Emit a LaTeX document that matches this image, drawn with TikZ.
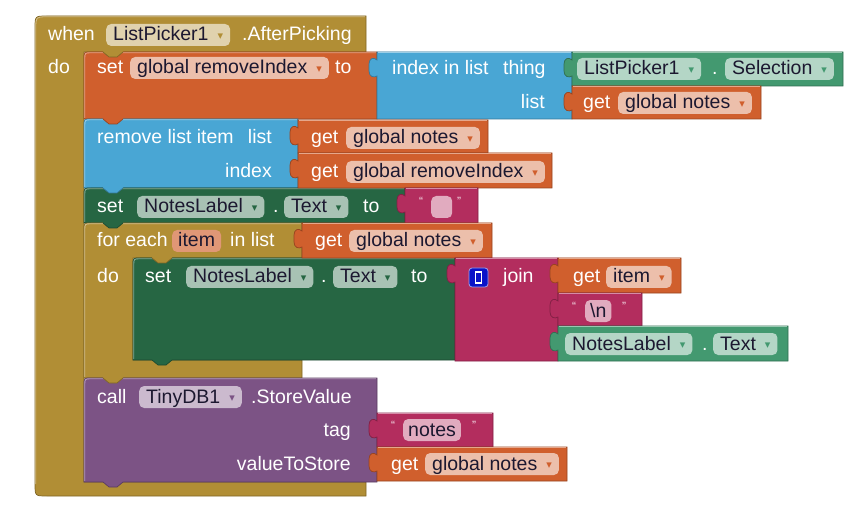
\documentclass[tikz,border=0pt]{standalone}
\usepackage{fontspec}
\setmainfont{Liberation Sans}
\newfontfamily\symfont{DejaVu Sans}

\definecolor{ctrl}{HTML}{B18E35}
\definecolor{var}{HTML}{D05F2D}
\definecolor{lists}{HTML}{49A6D4}
\definecolor{compset}{HTML}{266643}
\definecolor{compget}{HTML}{439970}
\definecolor{txt}{HTML}{B32D5E}
\definecolor{meth}{HTML}{7C5385}
\definecolor{ink}{HTML}{1C1830}
\definecolor{mutblue}{HTML}{0A12C8}

% dropdown marker inside a field
\newcommand\ddm[1]{\hspace{9pt}\raisebox{1.5pt}{\symfont\fontsize{11}{11}\selectfont\color{#1}▾}}

% statement block: rounded top-left corner, light top edge
\newcommand\sblk[5]{%
  \filldraw[fill=#1, rim=#1] (#2,#3+7) .. controls (#2,#3) .. (#2+7,#3)
    -- (#4,#3) -- (#4,#5) -- (#2,#5) -- cycle;
  \draw[#1!55!white, line width=0.8pt] (#2+0.8,#5-1) -- (#2+0.8,#3+7) .. controls (#2+0.8,#3+0.8) .. (#2+7,#3+0.8) -- (#4-1,#3+0.8);}
% value block with output tab on its left edge
\newcommand\vblk[5]{%
  \filldraw[fill=#1, rim=#1] (#2,#3) -- (#4,#3) -- (#4,#5) -- (#2,#5) -- (#2,#3+24)
    .. controls (#2-3,#3+26) and (#2-8,#3+25) .. (#2-8,#3+19) -- (#2-8,#3+12)
    .. controls (#2-8,#3+6) and (#2-3,#3+5) .. (#2,#3+8) -- cycle;
  \draw[#1!55!white, line width=0.8pt] (#2+0.5,#3+0.8) -- (#4-1,#3+0.8);}
% next-statement tab below a block edge
\newcommand\stab[3]{%
  \fill[#1] (#2+19,#3-1) -- (#2+19,#3) -- (#2+25,#3+5) -- (#2+33,#3+5) -- (#2+39,#3) -- (#2+39,#3-1) -- cycle;
  \draw[#1!72!black, line width=0.7pt] (#2+19,#3) -- (#2+25,#3+5) -- (#2+33,#3+5) -- (#2+39,#3);}

\tikzset{
  rim/.style={draw=#1!72!black, line width=0.7pt},
  every node/.style={font=\fontsize{19.5}{22}\selectfont},
  lbl/.style={text=white, inner sep=0pt, anchor=base west},
  lble/.style={text=white, inner sep=0pt, anchor=base east},
  pill/.style={fill=#1!40!white, text=ink, rounded corners=5pt, inner xsep=7pt,
    inner ysep=1pt, text height=16pt, text depth=4pt, anchor=base west},
  qmark/.style={text=txt!12!white, inner sep=0pt, anchor=base west, font=\fontsize{12}{12}\selectfont},
}

\begin{document}
\begin{tikzpicture}[x=1pt, y=-1pt]
\useasboundingbox (0,0) rectangle (859,529);
\fill[white] (0,0) rectangle (859,529);

% event block: when ListPicker1.AfterPicking
\filldraw[fill=ctrl, rim=ctrl] (35,28) .. controls (35,16) .. (47,16) -- (366,16) -- (366,52)
  -- (84,52) -- (84,482) -- (366,482) -- (366,496) -- (47,496) .. controls (35,496) .. (35,484) -- cycle;
\draw[ctrl!55!white, line width=0.8pt] (35.8,484) -- (35.8,28) .. controls (35.8,16.8) .. (47,16.8) -- (365,16.8);

% statement stack
\sblk{var}{84}{52}{377}{119}
\sblk{lists}{84}{119}{298}{188}
\sblk{compset}{84}{188}{405}{223}
\filldraw[fill=ctrl, rim=ctrl] (84,230) .. controls (84,223) .. (91,223) -- (302,223) -- (302,258)
  -- (133,258) -- (133,360) -- (302,360) -- (302,378) -- (84,378) -- cycle;
\draw[ctrl!55!white, line width=0.8pt] (84.8,377) -- (84.8,230) .. controls (84.8,223.8) .. (91,223.8) -- (301,223.8);
\sblk{meth}{84}{378}{377}{482}
\sblk{compset}{133}{258}{455}{360}

% statement tabs
\stab{ctrl}{84}{52}
\stab{var}{84}{119}
\stab{lists}{84}{188}
\stab{compset}{84}{223}
\stab{ctrl}{133}{258}
\stab{compset}{133}{360}
\stab{ctrl}{84}{378}
\stab{meth}{84}{482}

% value blocks
\vblk{lists}{377}{52}{572}{119}
\vblk{compget}{572}{52}{843}{86}
\vblk{var}{572}{86}{761}{119}
\vblk{var}{298}{120}{488}{153}
\vblk{var}{298}{153}{552}{188}
\vblk{txt}{405}{188}{478}{223}
\vblk{var}{302}{223}{492}{258}
\vblk{txt}{455}{258}{558}{361}
\vblk{var}{558}{258}{681}{293}
\vblk{txt}{558}{293}{642}{326}
\vblk{compget}{558}{326}{788}{361}
\vblk{txt}{377}{413}{493}{447}
\vblk{var}{377}{447}{567}{481}

% event header
\node[lbl] (when) at (48,41) {when};
\node[pill=ctrl] (evcomp) at (106,41) {ListPicker1\ddm{ctrl}};
\node[lbl] (evname) at (242,41) {.AfterPicking};
\node[lbl] (evdo) at (48,74) {do};

% set global removeIndex to index in list
\node[lbl] (set1) at (97,74) {set};
\node[pill=var] (set1var) at (130,74) {global removeIndex\ddm{var}};
\node[lbl] (set1to) at (335,74) {to};
\node[lbl] (idxlist) at (392,75) {index in list};
\node[lbl] (idxthing) at (503,75) {thing};
\node[lble] (idxlst) at (545,109) {list};
\node[pill=compget] (selcomp) at (577,75) {ListPicker1\ddm{compget}};
\node[lbl] (seldot) at (712,75) {.};
\node[pill=compget] (selprop) at (725,75) {Selection\ddm{compget}};
\node[lbl] (get1) at (583,109) {get};
\node[pill=var] (get1var) at (618,109) {global notes\ddm{var}};

% remove list item
\node[lbl] (rem) at (97,144) {remove list item};
\node[lble] (remlist) at (272,144) {list};
\node[lble] (remidx) at (272,178) {index};
\node[lbl] (get2) at (311,144) {get};
\node[pill=var] (get2var) at (346,144) {global notes\ddm{var}};
\node[lbl] (get3) at (311,178) {get};
\node[pill=var] (get3var) at (346,178) {global removeIndex\ddm{var}};

% set NotesLabel.Text to ""
\node[lbl] (set2) at (97,213) {set};
\node[pill=compset] (set2comp) at (137,213) {NotesLabel\ddm{compset}};
\node[lbl] (set2dot) at (273,213) {.};
\node[pill=compset] (set2prop) at (284,213) {Text\ddm{compset}};
\node[lbl] (set2to) at (363,213) {to};
\node[qmark] (q1a) at (419,206) {“};
\node[pill=txt, minimum width=21pt] (empty) at (431,213) {};
\node[qmark] (q1b) at (457,206) {”};

% for each item in list
\node[lbl] (fe) at (97,247) {for each};
\node[pill=var, fill=var!65!white, inner xsep=6pt] (feitem) at (172,247) {item};
\node[lbl] (fein) at (230,247) {in list};
\node[lbl] (get4) at (315,247) {get};
\node[pill=var] (get4var) at (349,247) {global notes\ddm{var}};
\node[lbl] (fedo) at (97,283) {do};

% set NotesLabel.Text to join
\node[lbl] (set3) at (145,283) {set};
\node[pill=compset] (set3comp) at (186,283) {NotesLabel\ddm{compset}};
\node[lbl] (set3dot) at (321,283) {.};
\node[pill=compset] (set3prop) at (333,283) {Text\ddm{compset}};
\node[lbl] (set3to) at (411,283) {to};
\filldraw[fill=mutblue, draw=mutblue!40!white, line width=0.8pt, rounded corners=3pt] (469,268) rectangle (488,287);
\draw[white, line width=1.3pt] (475.5,272) rectangle (481.5,283);
\node[lbl] (join) at (503,283) {join};
\node[lbl] (get5) at (573,283) {get};
\node[pill=var] (get5var) at (606,283) {item\ddm{var}};
\node[qmark] (q2a) at (572,310) {“};
\node[pill=txt, inner xsep=5pt] (nl) at (585,317) {\textbackslash n};
\node[qmark] (q2b) at (622,310) {”};
\node[pill=compget] (nlcomp) at (565,350) {NotesLabel\ddm{compget}};
\node[lbl] (nldot) at (702,350) {.};
\node[pill=compget] (nlprop) at (713,350) {Text\ddm{compget}};

% call TinyDB1.StoreValue
\node[lbl] (call) at (97,403) {call};
\node[pill=meth] (dbcomp) at (139,403) {TinyDB1\ddm{meth}};
\node[lbl] (dbm) at (251,403) {.StoreValue};
\node[lble] (dbtag) at (351,436) {tag};
\node[lble] (dbval) at (351,470) {valueToStore};
\node[qmark] (q3a) at (391,429) {“};
\node[pill=txt, inner xsep=5pt] (tagstr) at (403,436) {notes};
\node[qmark] (q3b) at (472,429) {”};
\node[lbl] (get6) at (391,470) {get};
\node[pill=var] (get6var) at (425,470) {global notes\ddm{var}};
\end{tikzpicture}
\end{document}
